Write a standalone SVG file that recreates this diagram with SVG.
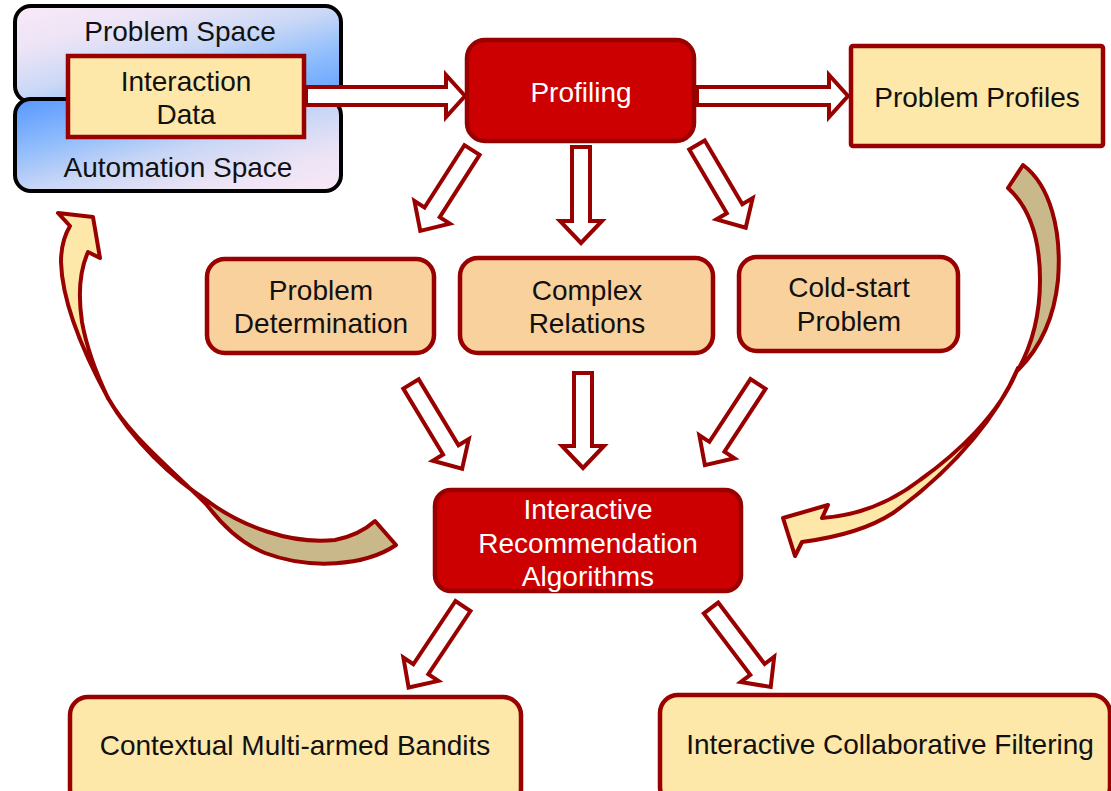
<svg xmlns="http://www.w3.org/2000/svg" width="1111" height="791" viewBox="0 0 1111 791">
  <defs>
    <linearGradient id="gProblem" gradientUnits="userSpaceOnUse" x1="341" y1="102" x2="298" y2="-58">
      <stop offset="0" stop-color="#5c9eff"/>
      <stop offset="0.3" stop-color="#8fbdfc"/>
      <stop offset="0.55" stop-color="#cad8f6"/>
      <stop offset="0.8" stop-color="#ece4f6"/>
      <stop offset="1" stop-color="#f6e8f7"/>
    </linearGradient>
    <linearGradient id="gAuto" gradientUnits="userSpaceOnUse" x1="15" y1="99" x2="58" y2="259">
      <stop offset="0" stop-color="#5797ff"/>
      <stop offset="0.3" stop-color="#8dbbfc"/>
      <stop offset="0.55" stop-color="#c8d6f6"/>
      <stop offset="0.8" stop-color="#ebe3f5"/>
      <stop offset="1" stop-color="#f6e7f6"/>
    </linearGradient>
    <style>
      .space { stroke: #000; stroke-width: 4; }
      .box { stroke: #990000; stroke-width: 4.5; }
      .yellow { fill: #fde7a9; }
      .orange { fill: #f9d19d; }
      .red { fill: #cc0000; }
      .blk { fill: #fff; stroke: #990000; stroke-width: 4; stroke-linejoin: miter; }
      .curve { stroke: #990000; stroke-width: 4; stroke-linejoin: round; }
      .tan { fill: #c9b98a; }
      .cream { fill: #fde7a9; }
      text { font-family: "Liberation Sans", Arial, sans-serif; font-size: 28px; text-anchor: middle; fill: #111; }
      text.light { fill: #fff; }
    </style>
  </defs>

  <rect width="1111" height="791" fill="#fff"/>

  <!-- problem / automation spaces -->
  <g id="problem-space">
    <rect class="space" x="15" y="6" width="326" height="96" rx="16" fill="url(#gProblem)"/>
    <text x="180" y="41">Problem Space</text>
  </g>
  <g id="automation-space">
    <rect class="space" x="15" y="99" width="326" height="92" rx="16" fill="url(#gAuto)"/>
    <text x="178" y="177">Automation Space</text>
  </g>

  <!-- block arrows and curved feedback arrows -->
  <g id="connectors">
    <polygon class="blk" points="306,87 446,87 446,75 465,96 446,117 446,105 306,105"/>
    <polygon class="blk" points="697,87 829,87 829,75 848,96 829,117 829,105 697,105"/>
    <polygon class="blk" transform="translate(472,150) rotate(122.6)" points="0,-9 74,-9 74,-21 96,0 74,21 74,9 0,9"/>
    <polygon class="blk" transform="translate(581,147) rotate(90)" points="0,-9 74,-9 74,-21 96,0 74,21 74,9 0,9"/>
    <polygon class="blk" transform="translate(697,145) rotate(59.5)" points="0,-9 74,-9 74,-21 96,0 74,21 74,9 0,9"/>
    <polygon class="blk" transform="translate(411,384) rotate(58.9)" points="0,-9 77,-9 77,-21 99,0 77,21 77,9 0,9"/>
    <polygon class="blk" transform="translate(583,373) rotate(90)" points="0,-9 73,-9 73,-21 95,0 73,21 73,9 0,9"/>
    <polygon class="blk" transform="translate(758,384) rotate(123.2)" points="0,-9 75,-9 75,-21 97,0 75,21 75,9 0,9"/>
    <polygon class="blk" transform="translate(463,606) rotate(123.7)" points="0,-9 76,-9 76,-21 98,0 76,21 76,9 0,9"/>
    <polygon class="blk" transform="translate(711,608) rotate(52.9)" points="0,-9 77,-9 77,-21 99,0 77,21 77,9 0,9"/>

    <!-- left feedback arrow: algorithms back to the spaces -->
    <path class="curve tan" d="M375,521 L396,545 C365,566 310,570 265,553 C240,543 222,525 207,505 C168,466 128,434 108,398 C132,440 172,478 209,502 C240,525 290,545 335,540 C350,537 365,530 375,521 Z"/>
    <path class="curve cream" d="M108,398 C82,350 62,300 61,262 C61,246 64,236 70,226 L58,213 L93,217 L100,258 L88,252 C80,270 78,295 82,322 C87,350 97,375 108,398 Z"/>

    <!-- right feedback arrow: profiles down to algorithms -->
    <path class="curve tan" d="M1008,188 L1023,165 C1050,185 1062,230 1058,280 C1054,320 1040,348 1018,370 C1032,345 1040,315 1040,280 C1040,240 1030,208 1008,188 Z"/>
    <path class="curve cream" d="M1018,368 C1000,410 960,465 893,513 C870,528 840,537 802,542 L795,556 L783,518 L828,505 L822,518 C850,516 885,507 920,480 C955,455 1000,415 1018,368 Z"/>
  </g>

  <g id="interaction-data">
    <rect class="box yellow" x="68" y="56" width="236" height="81"/>
    <text x="186" y="91">Interaction</text>
    <text x="186" y="124">Data</text>
  </g>

  <g id="profiling">
    <rect class="box red" x="467" y="40" width="227" height="101" rx="18"/>
    <text class="light" x="581" y="102">Profiling</text>
  </g>

  <g id="problem-profiles">
    <rect class="box yellow" x="851" y="46" width="252" height="100" rx="2"/>
    <text x="977" y="107">Problem Profiles</text>
  </g>

  <g id="problem-determination">
    <rect class="box orange" x="207" y="259" width="227" height="94" rx="18"/>
    <text x="321" y="300">Problem</text>
    <text x="321" y="333">Determination</text>
  </g>

  <g id="complex-relations">
    <rect class="box orange" x="460" y="258" width="253" height="95" rx="18"/>
    <text x="587" y="300">Complex</text>
    <text x="587" y="333">Relations</text>
  </g>

  <g id="cold-start">
    <rect class="box orange" x="739" y="257" width="219" height="94" rx="18"/>
    <text x="849" y="297">Cold-start</text>
    <text x="849" y="331">Problem</text>
  </g>

  <g id="recommendation-algorithms">
    <rect class="box red" x="435" y="490" width="306" height="101" rx="16"/>
    <text class="light" x="588" y="519">Interactive</text>
    <text class="light" x="588" y="553">Recommendation</text>
    <text class="light" x="588" y="586">Algorithms</text>
  </g>

  <g id="contextual-bandits">
    <rect class="box yellow" x="70" y="697" width="451" height="110" rx="18"/>
    <text x="295" y="755">Contextual Multi-armed Bandits</text>
  </g>

  <g id="collaborative-filtering">
    <rect class="box yellow" x="660" y="695" width="450" height="110" rx="18"/>
    <text x="890" y="754">Interactive Collaborative Filtering</text>
  </g>
</svg>
